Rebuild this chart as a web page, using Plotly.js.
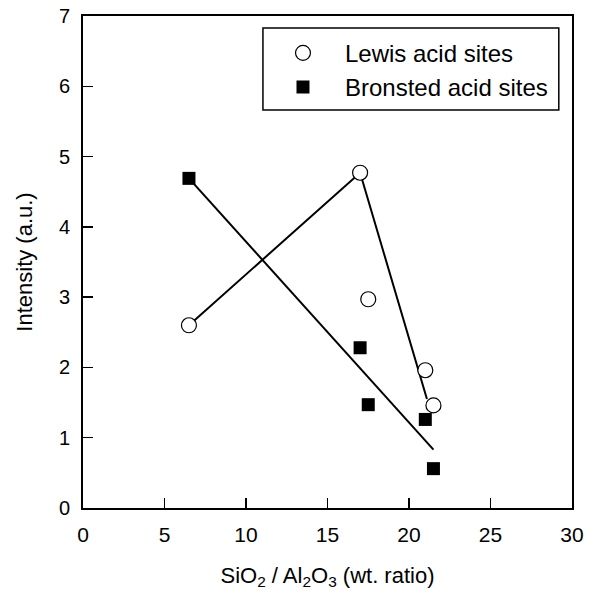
<!DOCTYPE html>
<html>
<head>
<meta charset="utf-8">
<script src="https://cdn.plot.ly/plotly-3.0.1.min.js"></script>
<style>html,body{margin:0;padding:0;background:#fff;}#chart{width:601px;height:593px;}</style>
</head>
<body>
<div id="chart"></div>
<script>
// Data
var ratio = [6.5, 17, 17.5, 21, 21.5];
var lewis = [2.6, 4.77, 2.97, 1.96, 1.46];
var bronsted = [4.69, 2.28, 1.47, 1.26, 0.56];
// Drawn trend lines (endpoints)
var lewisLineX = [6.5, 17, 21.1];
var lewisLineY = [2.6, 4.77, 1.55];
var bronstedLineX = [6.5, 21.5];
var bronstedLineY = [4.69, 0.83];
var xTicks = [0, 5, 10, 15, 20, 25, 30];
var yTicks = [0, 1, 2, 3, 4, 5, 6, 7];
var seriesNames = ["Lewis acid sites", "Bronsted acid sites"];

var font = "Arial, 'Liberation Sans', sans-serif";

var traces = [
  {x: lewisLineX, y: lewisLineY, mode: "lines", line: {color: "#000", width: 2}, showlegend: false, hoverinfo: "skip"},
  {x: bronstedLineX, y: bronstedLineY, mode: "lines", line: {color: "#000", width: 2}, showlegend: false, hoverinfo: "skip"},
  {x: ratio, y: lewis, mode: "markers", name: seriesNames[0],
   marker: {symbol: "circle", size: 15, color: "#fff", line: {color: "#000", width: 1.2}}},
  {x: ratio, y: bronsted, mode: "markers", name: seriesNames[1],
   marker: {symbol: "square", size: 13, color: "#000", line: {color: "#000", width: 0}}}
];

var layout = {
  width: 601, height: 593,
  margin: {l: 83, r: 29, t: 16, b: 85},
  paper_bgcolor: "#fff", plot_bgcolor: "#fff",
  font: {family: font, size: 20, color: "#000"},
  xaxis: {
    range: [0, 30], tickvals: xTicks, ticktext: xTicks.map(String),
    ticks: "inside", ticklen: 10, tickwidth: 1.5, tickcolor: "#000",
    showline: true, linecolor: "#000", linewidth: 2, mirror: true,
    showgrid: false, zeroline: false, ticklabelstandoff: 7,
    tickfont: {size: 21},
    title: {text: "SiO<sub>2</sub> / Al<sub>2</sub>O<sub>3</sub> (wt. ratio)", font: {size: 22}, standoff: 22}
  },
  yaxis: {
    range: [0, 7], tickvals: yTicks, ticktext: yTicks.map(String),
    ticks: "inside", ticklen: 10, tickwidth: 1.5, tickcolor: "#000",
    showline: true, linecolor: "#000", linewidth: 2, mirror: true,
    showgrid: false, zeroline: false, ticklabelstandoff: 7,
    tickfont: {size: 20},
    title: {text: "Intensity (a.u.)", font: {size: 22}, standoff: 20}
  },
  showlegend: true,
  legend: {
    x: 0.364, y: 0.970, xanchor: "left", yanchor: "top",
    bgcolor: "rgba(0,0,0,0)", borderwidth: 0,
    font: {size: 24}, itemwidth: 74, traceorder: "normal"
  },
  shapes: [
    {type: "rect", xref: "paper", yref: "paper", x0: 0.368, x1: 0.973, y0: 0.809, y1: 0.9756,
     line: {color: "#000", width: 1.5}, fillcolor: "rgba(0,0,0,0)"}
  ]
};

Plotly.newPlot("chart", traces, layout, {displayModeBar: false, staticPlot: true});
</script>
</body>
</html>
